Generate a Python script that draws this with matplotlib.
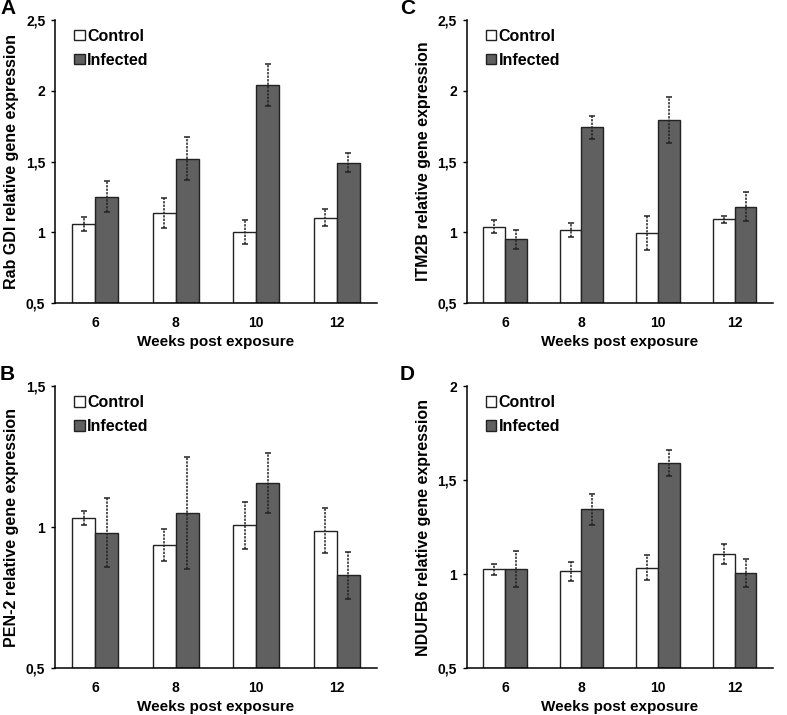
import matplotlib.pyplot as plt
from matplotlib.patches import Patch

plt.rcParams['font.family'] = ['Liberation Sans', 'DejaVu Sans']
plt.rcParams['font.weight'] = 'bold'

weeks = ['6', '8', '10', '12']

# panel A - Rab GDI
rab_ctrl = [1.06, 1.135, 1.00, 1.105]
rab_ctrl_err = [0.05, 0.105, 0.085, 0.057]
rab_inf = [1.253, 1.521, 2.041, 1.493]
rab_inf_err = [0.11, 0.15, 0.15, 0.07]

# panel C - ITM2B
itm_ctrl = [1.041, 1.018, 0.994, 1.091]
itm_ctrl_err = [0.045, 0.05, 0.12, 0.028]
itm_inf = [0.952, 1.742, 1.794, 1.182]
itm_inf_err = [0.068, 0.08, 0.165, 0.10]

# panel B - PEN-2
pen_ctrl = [1.031, 0.936, 1.006, 0.988]
pen_ctrl_err = [0.025, 0.057, 0.083, 0.081]
pen_inf = [0.981, 1.050, 1.156, 0.829]
pen_inf_err = [0.123, 0.20, 0.107, 0.083]

# panel D - NDUFB6
nd_ctrl = [1.026, 1.015, 1.035, 1.106]
nd_ctrl_err = [0.03, 0.049, 0.065, 0.052]
nd_inf = [1.026, 1.346, 1.594, 1.005]
nd_inf_err = [0.097, 0.083, 0.069, 0.074]

panels = [
    ('A', 'Rab GDI relative gene expression', rab_ctrl, rab_ctrl_err, rab_inf, rab_inf_err,
     2.5, [0.5, 1, 1.5, 2, 2.5], ['0,5', '1', '1,5', '2', '2,5']),
    ('C', 'ITM2B relative gene expression', itm_ctrl, itm_ctrl_err, itm_inf, itm_inf_err,
     2.5, [0.5, 1, 1.5, 2, 2.5], ['0,5', '1', '1,5', '2', '2,5']),
    ('B', 'PEN-2 relative gene expression', pen_ctrl, pen_ctrl_err, pen_inf, pen_inf_err,
     1.5, [0.5, 1, 1.5], ['0,5', '1', '1,5']),
    ('D', 'NDUFB6 relative gene expression', nd_ctrl, nd_ctrl_err, nd_inf, nd_inf_err,
     2.0, [0.5, 1, 1.5, 2], ['0,5', '1', '1,5', '2']),
]

# axes boxes [left, bottom, width, height] in figure fraction
boxes = [
    [0.0699, 0.576, 0.409, 0.396],
    [0.593, 0.576, 0.389, 0.396],
    [0.0699, 0.0657, 0.409, 0.394],
    [0.593, 0.0657, 0.389, 0.394],
]
letter_x = [0.0, 0.508, 0.0, 0.508]

fig = plt.figure(figsize=(7.87, 7.15), dpi=100)
inf_color = '#606060'
w = 0.286

for (letter, ylab, c, ce, inf, ie, ytop, yt, ytl), box, lx in zip(panels, boxes, letter_x):
    ax = fig.add_axes(box)
    x = list(range(len(weeks)))
    xc = [i - w / 2 for i in x]
    xi = [i + w / 2 for i in x]
    ax.bar(xc, [v - 0.5 for v in c], w, bottom=0.5, color='white', edgecolor='#222222', linewidth=1.0, zorder=2)
    ax.bar(xi, [v - 0.5 for v in inf], w, bottom=0.5, color=inf_color, edgecolor='#222222', linewidth=1.0, zorder=2)
    for xs, ys, es in [(xc, c, ce), (xi, inf, ie)]:
        eb = ax.errorbar(xs, ys, yerr=es, fmt='none', ecolor='#222222', elinewidth=1.1,
                         capsize=2.5, capthick=1.1, zorder=3)
        eb[2][0].set_linestyle((0, (1.5, 0.8)))
    ax.set_xlim(-0.5, 3.5)
    ax.set_ylim(0.5, ytop)
    ax.set_yticks(yt)
    ax.set_yticklabels(ytl)
    ax.set_xticks(x)
    ax.set_xticklabels(weeks)
    ax.tick_params(axis='x', length=0, pad=9, labelsize=10)
    ax.tick_params(axis='y', length=3, width=1, pad=4, labelsize=10)
    for s in ['top', 'right']:
        ax.spines[s].set_visible(False)
    for s in ['left', 'bottom']:
        ax.spines[s].set_linewidth(1.1)
    ax.set_xlabel('Weeks post exposure', fontsize=11, fontweight='bold', labelpad=4)
    ax.set_ylabel(ylab, fontsize=11.5, fontweight='bold', labelpad=5)
    handles = [Patch(facecolor='white', edgecolor='#222222', linewidth=1.0),
               Patch(facecolor=inf_color, edgecolor='#222222', linewidth=1.0)]
    ax.legend(handles, ['Control', 'Infected'], loc='upper left', bbox_to_anchor=(0.015, 1.02),
              frameon=False, handlelength=0.65, handleheight=0.65, handletextpad=0.15,
              labelspacing=0.55, prop={'weight': 'bold', 'size': 11.5})
    fig.text(lx, box[1] + box[3] + 0.016, letter, fontsize=15, fontweight='bold',
             ha='left', va='center')

fig.savefig('out.png', dpi=100)
